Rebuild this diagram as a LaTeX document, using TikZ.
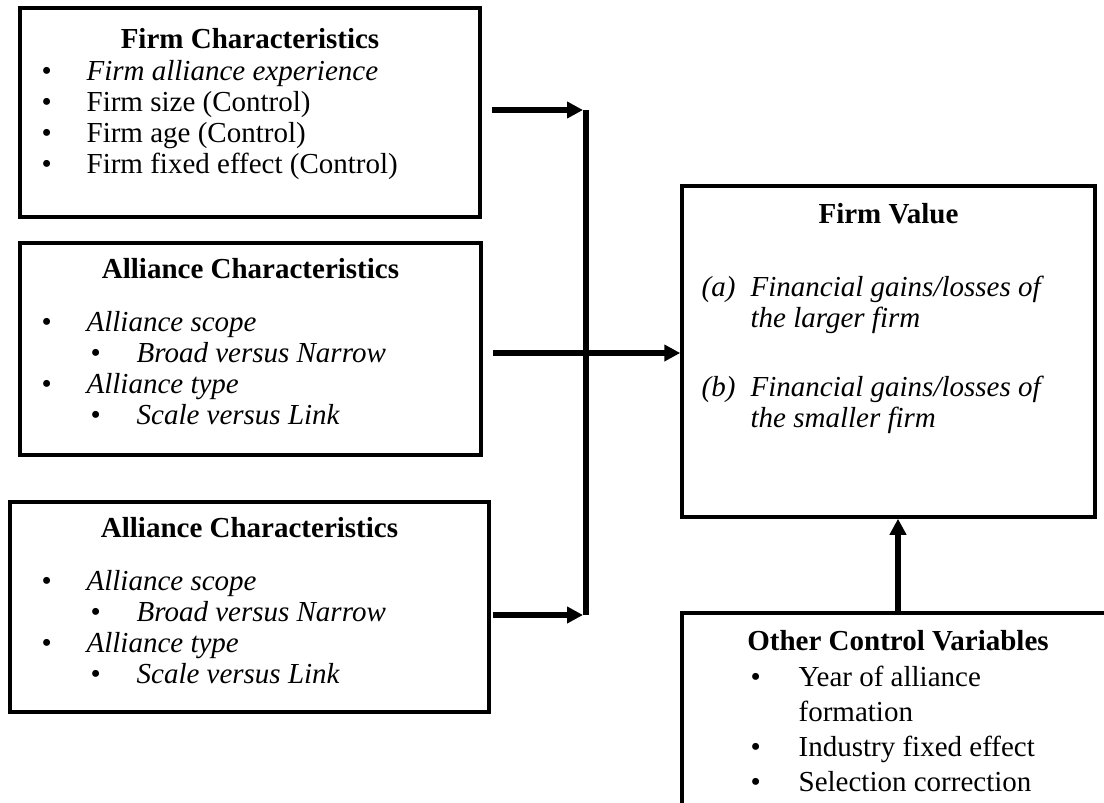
\documentclass[tikz,border=0pt]{standalone}
\usepackage{fontspec}
\setmainfont{Liberation Serif}
\usetikzlibrary{arrows.meta,positioning}

% bullet lines
\newcommand{\itm}[1]{\makebox[22.5pt][l]{\textbullet}#1}
\newcommand{\subitm}[1]{\hspace{24.5pt}\makebox[23pt][l]{\textbullet}#1}

\begin{document}
\begin{tikzpicture}[
  x=0.5pt, y=-0.5pt,
  box/.style={rectangle, draw, line width=1.75pt, inner sep=0pt},
  ttl/.style={anchor=base, inner sep=0pt, font=\fontsize{14.5}{15.5}\selectfont\bfseries},
  lst/.style={anchor=base west, align=left, inner sep=0pt},
  arr/.style={-{Triangle[length=8pt,width=8pt]}, line width=3pt},
  bus/.style={line width=3pt},
  font=\fontsize{14.5}{15.5}\selectfont
]
\path[use as bounding box, clip] (0,0) rectangle (1104,803);

% left column (list nodes sit on their last baseline)
\node[box, minimum width=230pt, minimum height=104.5pt] (firm) at (250,112.5) {};
\node[ttl] (firmttl) at ([yshift=-21pt]firm.north) {Firm Characteristics};
\node[lst] (firmlst) at ([shift={(11.5pt,-83.5pt)}]firm.north west)
  {\itm{\textit{Firm alliance experience}}\\
   \itm{Firm size (Control)}\\
   \itm{Firm age (Control)}\\
   \itm{Firm fixed effect (Control)}};

\node[box, minimum width=230.5pt, minimum height=106pt] (alli) at (250.5,349) {};
\node[ttl] (allittl) at ([yshift=-18.5pt]alli.north) {Alliance Characteristics};
\node[lst] (allilst) at ([shift={(11.5pt,-91.5pt)}]alli.north west)
  {\itm{\textit{Alliance scope}}\\
   \subitm{\textit{Broad versus Narrow}}\\
   \itm{\textit{Alliance type}}\\
   \subitm{\textit{Scale versus Link}}};

\node[box, minimum width=239.5pt, minimum height=105pt] (allitwo) at (249.5,607) {};
\node[ttl] (allitwottl) at ([yshift=-18.5pt]allitwo.north) {Alliance Characteristics};
\node[lst] (allitwolst) at ([shift={(16.5pt,-91.5pt)}]allitwo.north west)
  {\itm{\textit{Alliance scope}}\\
   \subitm{\textit{Broad versus Narrow}}\\
   \itm{\textit{Alliance type}}\\
   \subitm{\textit{Scale versus Link}}};

% right column
\node[box, minimum width=206.5pt, minimum height=165.5pt] (value) at (888.5,351.5) {};
\node[ttl] (valuettl) at ([yshift=-19.5pt]value.north) {Firm Value};
\node[lst] (valuelst) at ([shift={(10.5pt,-121.5pt)}]value.north west)
  {\makebox[24.5pt][l]{\textit{(a)}}\textit{Financial gains/losses of}\\
   \hspace{24.5pt}\textit{the larger firm}\\[19pt]
   \makebox[24.5pt][l]{\textit{(b)}}\textit{Financial gains/losses of}\\
   \hspace{24.5pt}\textit{the smaller firm}};

\node[box, minimum width=216pt, minimum height=118.5pt] (other) at (898,731.5) {};
\node[ttl] (otherttl) at ([yshift=-19.5pt]other.north) {Other Control Variables};
\node[lst, font=\fontsize{14.5}{17.5}\selectfont] (otherlst) at ([shift={(35pt,-90pt)}]other.north west)
  {\makebox[24pt][l]{\textbullet}Year of alliance\\
   \hspace{24pt}formation\\
   \makebox[24pt][l]{\textbullet}Industry fixed effect\\
   \makebox[24pt][l]{\textbullet}Selection correction};

% connectors
\coordinate (bus) at (586,0);
\coordinate (aone) at ([xshift=5pt,yshift=1.25pt]firm.east);
\coordinate (atwo) at ([xshift=5pt,yshift=-2pt]alli.east);
\coordinate (athree) at ([xshift=1pt,yshift=-4pt]allitwo.east);
\draw[bus] (aone -| bus) -- (athree -| bus);
\draw[arr] (aone) -- ([xshift=-1.5pt]aone -| bus);
\draw[arr] (athree) -- ([xshift=-1.5pt]athree -| bus);
\draw[arr] (atwo) -- (atwo -| value.west);
\draw[arr] (other.north) -- (other.north |- value.south);
\end{tikzpicture}
\end{document}
